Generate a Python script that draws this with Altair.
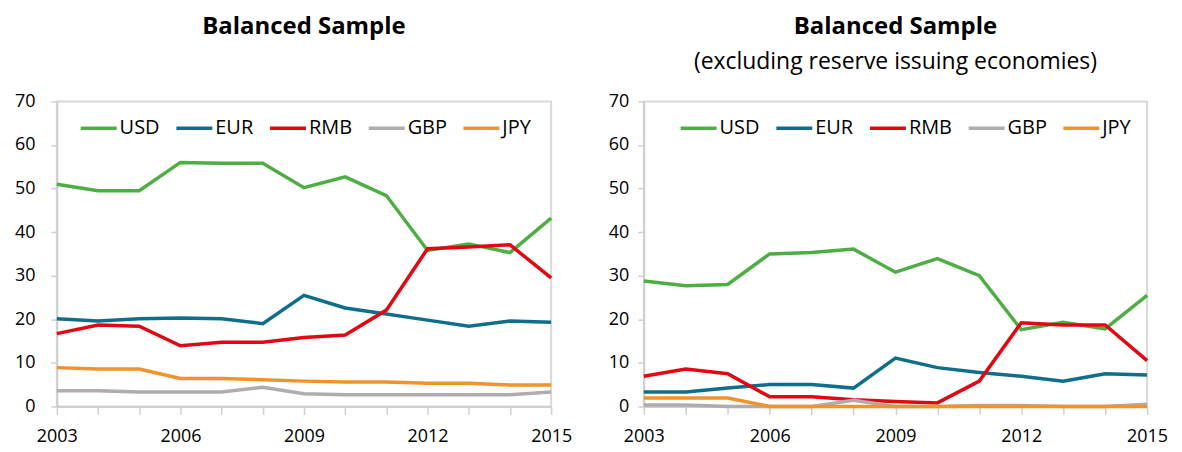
import altair as alt
import pandas as pd

years = list(range(2003, 2016))
currencies = ["USD", "EUR", "RMB", "GBP", "JPY"]
colors = ["#4DAF43", "#0F6E8C", "#E30613", "#B0ACAC", "#F0932B"]

# Left panel: Balanced Sample
left_usd = [51.0, 49.5, 49.5, 56.0, 55.8, 55.8, 50.2, 52.7, 48.4, 35.8, 37.3, 35.3, 43.2]
left_eur = [20.1, 19.6, 20.1, 20.3, 20.1, 19.0, 25.5, 22.6, 21.2, 19.8, 18.4, 19.6, 19.3]
left_rmb = [16.7, 18.7, 18.4, 13.9, 14.7, 14.7, 15.8, 16.4, 22.1, 36.2, 36.6, 37.1, 29.5]
left_gbp = [3.6, 3.6, 3.3, 3.3, 3.3, 4.4, 2.9, 2.7, 2.7, 2.7, 2.7, 2.7, 3.3]
left_jpy = [8.9, 8.6, 8.6, 6.4, 6.4, 6.1, 5.8, 5.6, 5.6, 5.3, 5.3, 4.9, 4.9]

# Right panel: Balanced Sample (excluding reserve issuing economies)
right_usd = [28.8, 27.7, 28.0, 35.0, 35.3, 36.1, 30.8, 33.9, 30.0, 17.6, 19.3, 17.8, 25.5]
right_eur = [3.3, 3.3, 4.2, 5.0, 5.0, 4.2, 11.1, 8.9, 7.8, 6.9, 5.8, 7.5, 7.2]
right_rmb = [6.9, 8.6, 7.5, 2.2, 2.2, 1.5, 1.1, 0.8, 5.8, 19.2, 18.7, 18.7, 10.5]
right_gbp = [0.3, 0.3, 0.0, 0.0, 0.0, 1.4, 0.0, 0.0, 0.2, 0.2, 0.0, 0.0, 0.5]
right_jpy = [1.9, 1.9, 1.9, 0.0, 0.0, 0.0, 0.0, 0.0, 0.0, 0.0, 0.0, 0.0, 0.0]

FONT = "Open Sans"


def make_df(series):
    rows = []
    for cur, vals in zip(currencies, series):
        for yr, v in zip(years, vals):
            rows.append({"year": yr, "currency": cur, "value": v,
                         "k": currencies.index(cur)})
    return pd.DataFrame(rows)


def panel(series, title, subtitle, legend_x, width, ypad):
    df = make_df(series)
    return alt.Chart(df).mark_line(strokeWidth=3.5).encode(
        x=alt.X("year:Q",
                scale=alt.Scale(domain=[2003, 2015], nice=False, zero=False),
                axis=alt.Axis(values=years, format="d", title=None, grid=False,
                              labelExpr="(datum.value - 2003) % 3 == 0 ? datum.label : ''",
                              tickSize=8, labelPadding=13, labelFlush=False,
                              labelFont=FONT, labelFontSize=18, labelColor="black",
                              domainColor="#D0D0D0", tickColor="#D0D0D0",
                              domainWidth=2, tickWidth=1.5)),
        y=alt.Y("value:Q",
                scale=alt.Scale(domain=[0, 70], nice=False),
                axis=alt.Axis(values=list(range(0, 71, 10)), title=None, grid=False,
                              tickSize=6, labelPadding=ypad,
                              labelFont=FONT, labelFontSize=18, labelColor="black",
                              domainColor="#D0D0D0", tickColor="#D0D0D0",
                              domainWidth=2, tickWidth=1.5)),
        color=alt.Color("currency:N",
                        scale=alt.Scale(domain=currencies, range=colors),
                        sort=currencies,
                        legend=alt.Legend(orient="none", legendX=legend_x, legendY=7,
                                          direction="horizontal", title=None,
                                          symbolType="stroke", symbolStrokeWidth=3.5,
                                          symbolSize=1300, labelFontSize=20,
                                          labelFont=FONT, labelColor="black",
                                          labelOffset=1, columnPadding=8)),
        order=alt.Order("k:Q"),
        detail="currency:N",
    ).properties(
        width=width, height=306,
        title=alt.TitleParams(text=title, subtitle=subtitle, fontSize=24,
                              font=FONT, fontWeight="bold", color="black",
                              subtitleFont=FONT, subtitleFontSize=23,
                              subtitleColor="black", subtitlePadding=12,
                              anchor="middle", offset=19),
    )


left = panel([left_usd, left_eur, left_rmb, left_gbp, left_jpy],
             "Balanced Sample", " ", 22, 496, 16)
right = panel([right_usd, right_eur, right_rmb, right_gbp, right_jpy],
              "Balanced Sample", "(excluding reserve issuing economies)", 35, 505, 9)

chart = alt.hconcat(left, right, spacing=34).resolve_scale(
    color="independent").resolve_legend(color="independent").configure_view(
    stroke="#D9D9D9", strokeWidth=2).properties(background="white")

chart.save("out.html", embed_options={"renderer": "svg", "actions": False})
